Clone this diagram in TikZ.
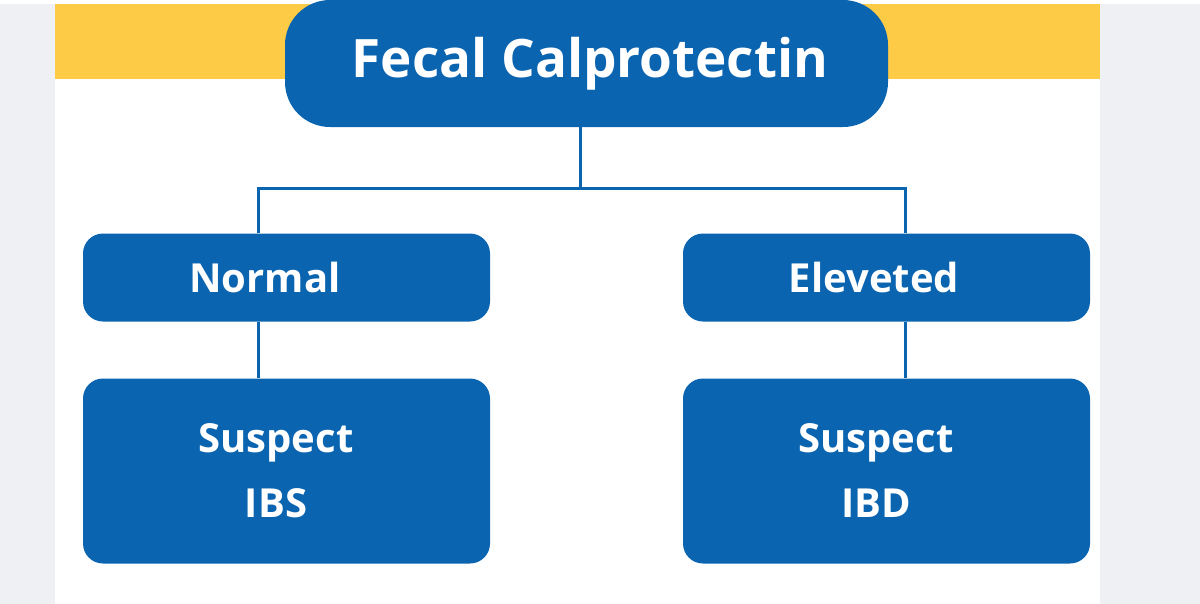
\documentclass[tikz,border=0pt]{standalone}
\usepackage{fontspec}
\setmainfont{Open Sans}
\definecolor{bl}{HTML}{0A64B0}
\definecolor{yl}{HTML}{FDCB45}
\definecolor{bg}{HTML}{EEF0F3}
\begin{document}
\begin{tikzpicture}[x=1pt,y=-1pt,
  box/.style={fill=bl,inner sep=0pt,rounded corners=20pt,minimum width=407pt},
  lab/.style={text=white,font=\bfseries\fontsize{40}{65}\selectfont,align=center,inner sep=0pt},
  conn/.style={draw=bl,line width=3pt}]
\fill[bg] (0,0) rectangle (1200,600);
\fill[white] (55,0) rectangle (1100,600);
\fill[yl] (55,0) rectangle (1100,75);
\node[box,rounded corners=45pt,minimum width=603pt,minimum height=127pt] (top) at (586.5,60) {};
\node[lab,font=\bfseries\fontsize{53}{60}\selectfont] (topt) at (590,60) {Fecal Calprotectin};
\node[box,minimum height=88pt] (n) at (286.5,274) {};
\node[lab] (nt) at (265,274) {Normal};
\node[box,minimum height=88pt] (e) at (886.5,274) {};
\node[lab] (et) at (874,274) {Eleveted};
\node[box,minimum height=185pt] (ibs) at (286.5,467.5) {};
\node[lab] (ibst) at (276,467.5) {Suspect\\IBS};
\node[box,minimum height=185pt] (ibd) at (886.5,467.5) {};
\node[lab] (ibdt) at (876,467.5) {Suspect\\IBD};
\coordinate (j) at (580,185);
\draw[conn] (top.south -| j) -- (j);
\draw[conn] (n.north -| 258,0) |- (j) -| (e.north -| 905,0);
\draw[conn] (n.south -| 258,0) -- (ibs.north -| 258,0);
\draw[conn] (e.south -| 905,0) -- (ibd.north -| 905,0);
\end{tikzpicture}
\end{document}
